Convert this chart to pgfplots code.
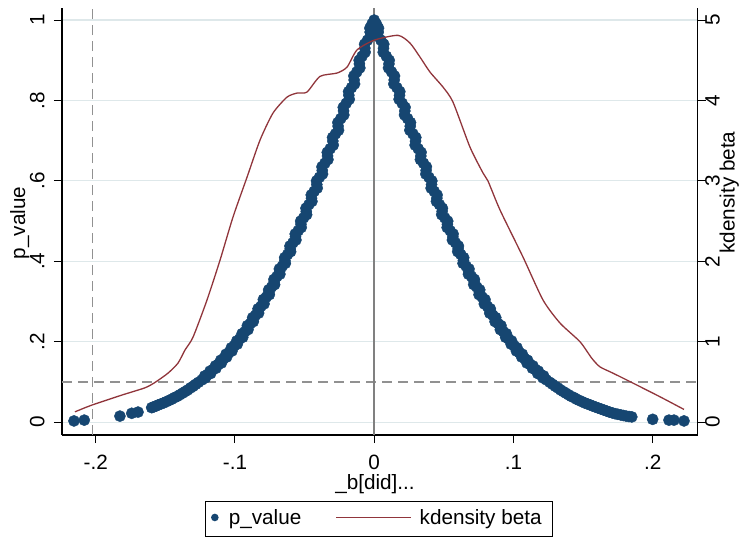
\documentclass[border=0pt]{standalone}
\usepackage{fontspec}
\setmainfont{Liberation Sans}
\usepackage{pgfplots}
\usepackage{pgfplotstable}
\pgfplotsset{compat=1.18}
\definecolor{stnavy}{RGB}{22,70,113}
\definecolor{stmaroon}{RGB}{144,53,59}
\definecolor{gridc}{RGB}{222,232,234}
\definecolor{refc}{RGB}{145,145,145}
\definecolor{zeroc}{RGB}{128,128,128}

\pgfplotstableread{
b p
0.0000 1.000
-0.0031 0.980
-0.0026 0.960
-0.0069 0.940
-0.0065 0.920
-0.0108 0.900
-0.0103 0.881
-0.0146 0.861
-0.0141 0.841
-0.0184 0.822
-0.0179 0.803
-0.0222 0.783
-0.0218 0.764
-0.0261 0.745
-0.0256 0.726
-0.0299 0.708
-0.0294 0.689
-0.0337 0.671
-0.0332 0.653
-0.0375 0.635
-0.0371 0.617
-0.0414 0.600
-0.0409 0.582
-0.0452 0.565
-0.0447 0.549
-0.0490 0.532
-0.0485 0.516
-0.0528 0.500
-0.0524 0.484
-0.0567 0.468
-0.0562 0.453
-0.0605 0.438
-0.0600 0.424
-0.0643 0.409
-0.0638 0.395
-0.0681 0.381
-0.0677 0.368
-0.0720 0.355
-0.0715 0.342
-0.0758 0.329
-0.0753 0.317
-0.0796 0.305
-0.0791 0.294
-0.0834 0.282
-0.0830 0.271
-0.0873 0.260
-0.0868 0.250
-0.0911 0.240
-0.0906 0.230
-0.0949 0.220
-0.0944 0.211
-0.0987 0.202
-0.0983 0.194
-0.1026 0.185
-0.1021 0.177
-0.1064 0.169
-0.1059 0.162
-0.1102 0.154
-0.1097 0.147
-0.1140 0.140
-0.1136 0.134
-0.1179 0.127
-0.1174 0.121
-0.1217 0.115
-0.1212 0.110
-0.1262 0.099
-0.1301 0.089
-0.1339 0.080
-0.1377 0.072
-0.1415 0.064
-0.1454 0.057
-0.1492 0.051
-0.1530 0.0455
-0.1568 0.040
-0.1598 0.036
-0.1696 0.025
-0.1741 0.022
-0.1826 0.015
-0.2082 0.005
-0.2156 0.003
0.0031 0.980
0.0026 0.960
0.0069 0.940
0.0065 0.920
0.0108 0.900
0.0103 0.881
0.0146 0.861
0.0141 0.841
0.0184 0.822
0.0179 0.803
0.0222 0.783
0.0218 0.764
0.0261 0.745
0.0256 0.726
0.0299 0.708
0.0294 0.689
0.0337 0.671
0.0332 0.653
0.0375 0.635
0.0371 0.617
0.0414 0.600
0.0409 0.582
0.0452 0.565
0.0447 0.549
0.0490 0.532
0.0485 0.516
0.0528 0.500
0.0524 0.484
0.0567 0.468
0.0562 0.453
0.0605 0.438
0.0600 0.424
0.0643 0.409
0.0638 0.395
0.0681 0.381
0.0677 0.368
0.0720 0.355
0.0715 0.342
0.0758 0.329
0.0753 0.317
0.0796 0.305
0.0791 0.294
0.0834 0.282
0.0830 0.271
0.0873 0.260
0.0868 0.250
0.0911 0.240
0.0906 0.230
0.0949 0.220
0.0944 0.211
0.0987 0.202
0.0983 0.194
0.1026 0.185
0.1021 0.177
0.1064 0.169
0.1059 0.162
0.1102 0.154
0.1097 0.147
0.1140 0.140
0.1136 0.134
0.1179 0.127
0.1174 0.121
0.1217 0.115
0.1212 0.110
0.1262 0.099
0.1301 0.089
0.1339 0.080
0.1377 0.072
0.1415 0.064
0.1454 0.057
0.1492 0.051
0.1530 0.0455
0.1570 0.040
0.1610 0.035
0.1650 0.030
0.1690 0.025
0.1730 0.021
0.1770 0.018
0.1810 0.015
0.1850 0.013
0.2000 0.007
0.2117 0.005
0.2153 0.005
0.2225 0.003
}\pvals

\pgfplotstableread{
b p
-0.0016 0.990
-0.0029 0.970
-0.0048 0.950
-0.0067 0.930
-0.0087 0.910
-0.0106 0.891
-0.0125 0.871
-0.0144 0.851
-0.0163 0.832
-0.0182 0.813
-0.0201 0.793
-0.0220 0.774
-0.0240 0.755
-0.0259 0.736
-0.0278 0.717
-0.0297 0.699
-0.0316 0.680
-0.0335 0.662
-0.0354 0.644
-0.0373 0.626
-0.0393 0.609
-0.0412 0.591
-0.0431 0.574
-0.0450 0.557
-0.0469 0.541
-0.0488 0.524
-0.0507 0.508
-0.0526 0.492
-0.0546 0.476
-0.0565 0.461
-0.0584 0.446
-0.0603 0.431
-0.0622 0.417
-0.0641 0.402
-0.0660 0.388
-0.0679 0.375
-0.0699 0.362
-0.0718 0.349
-0.0737 0.336
-0.0756 0.323
-0.0775 0.311
-0.0794 0.300
-0.0813 0.288
-0.0832 0.277
-0.0852 0.266
-0.0871 0.255
-0.0890 0.245
-0.0909 0.235
-0.0928 0.225
-0.0947 0.216
-0.0966 0.207
-0.0985 0.198
-0.1005 0.190
-0.1024 0.181
-0.1043 0.173
-0.1062 0.166
-0.1081 0.158
-0.1100 0.151
-0.1119 0.144
-0.1138 0.137
-0.1158 0.131
-0.1177 0.124
-0.1196 0.118
-0.1215 0.113
-0.1237 0.105
-0.1282 0.094
-0.1320 0.085
-0.1358 0.076
-0.1396 0.068
-0.1435 0.061
-0.1473 0.054
-0.1511 0.048
-0.1549 0.043
-0.1583 0.038
0.0016 0.990
0.0029 0.970
0.0048 0.950
0.0067 0.930
0.0087 0.910
0.0106 0.891
0.0125 0.871
0.0144 0.851
0.0163 0.832
0.0182 0.813
0.0201 0.793
0.0220 0.774
0.0240 0.755
0.0259 0.736
0.0278 0.717
0.0297 0.699
0.0316 0.680
0.0335 0.662
0.0354 0.644
0.0373 0.626
0.0393 0.609
0.0412 0.591
0.0431 0.574
0.0450 0.557
0.0469 0.541
0.0488 0.524
0.0507 0.508
0.0526 0.492
0.0546 0.476
0.0565 0.461
0.0584 0.446
0.0603 0.431
0.0622 0.417
0.0641 0.402
0.0660 0.388
0.0679 0.375
0.0699 0.362
0.0718 0.349
0.0737 0.336
0.0756 0.323
0.0775 0.311
0.0794 0.300
0.0813 0.288
0.0832 0.277
0.0852 0.266
0.0871 0.255
0.0890 0.245
0.0909 0.235
0.0928 0.225
0.0947 0.216
0.0966 0.207
0.0985 0.198
0.1005 0.190
0.1024 0.181
0.1043 0.173
0.1062 0.166
0.1081 0.158
0.1100 0.151
0.1119 0.144
0.1138 0.137
0.1158 0.131
0.1177 0.124
0.1196 0.118
0.1215 0.113
0.1237 0.105
0.1282 0.094
0.1320 0.085
0.1358 0.076
0.1396 0.068
0.1435 0.061
0.1473 0.054
0.1511 0.048
0.1550 0.043
0.1590 0.0375
0.1630 0.0325
0.1670 0.0275
0.1710 0.023
0.1750 0.0195
0.1790 0.0165
0.1830 0.014
}\pvalsmid

\pgfplotstableread{
b d
-0.2149 0.128
-0.2029 0.211
-0.1813 0.336
-0.1646 0.427
-0.1574 0.494
-0.1481 0.609
-0.1409 0.734
-0.1359 0.896
-0.1301 1.057
-0.1201 1.517
-0.1107 2.015
-0.1014 2.550
-0.0913 3.047
-0.0820 3.507
-0.0727 3.843
-0.0626 4.042
-0.0554 4.092
-0.0483 4.104
-0.0389 4.300
-0.0267 4.341
-0.0195 4.415
-0.0124 4.627
0.0000 4.750
0.0171 4.810
0.0257 4.714
0.0329 4.540
0.0401 4.353
0.0494 4.167
0.0566 3.980
0.0688 3.420
0.0782 3.097
0.0817 3.000
0.0904 2.637
0.1069 2.052
0.1213 1.517
0.1335 1.231
0.1478 1.000
0.1562 0.796
0.1621 0.688
0.1715 0.609
0.1859 0.485
0.2053 0.315
0.2225 0.158
}\dens

\begin{document}
\fontsize{20.7}{24}\selectfont
\begin{tikzpicture}
\pgfplotsset{
  every axis/.append style={font=\fontsize{20.7}{24}\selectfont},
  base/.style={
    scale only axis, width=635.5pt, height=427pt,
    xmin=-0.2242, xmax=0.2322,
    tick align=outside, major tick length=8pt,
    axis line style={line width=1.1pt, black},
    every tick/.style={line width=1.1pt, black},
    xtick={-0.2,-0.1,0,0.1,0.2},
  },
  pmark/.style={only marks, mark=*, mark size=5.6pt, color=stnavy, mark options={draw=stnavy, fill=stnavy}},
}
\begin{axis}[base,
  ymin=-0.032, ymax=1.030,
  axis x line*=bottom, axis y line*=left,
  xticklabels={-.2,-.1,0,.1,.2},
  ytick={0,0.2,0.4,0.6,0.8,1},
  yticklabels={0,.2,.4,.6,.8,1},
  ymajorgrids, major grid style={gridc, line width=1.2pt},
  yticklabel style={xshift=-9.5pt, rotate=90, anchor=base},
  xticklabel style={yshift=-26pt, anchor=base},
  every axis y label/.style={at={(axis description cs:-0.0582,0.4965)}, rotate=90, anchor=base},
  every axis x label/.style={at={(axis description cs:0.4925,-0.1265)}, anchor=base},
  ylabel={p\_value},
  xlabel={\_b[did]...},
]
\coordinate (sw) at (rel axis cs:0,0);
\addplot[refc, line width=1.2pt, dash pattern=on 10pt off 6pt, forget plot] coordinates {(-0.2022,-0.032) (-0.2022,1.030)};
\addplot[refc, line width=1.2pt, dash pattern=on 10pt off 6pt, forget plot] coordinates {(-0.2242,0.1) (0.2322,0.1)};
\addplot[zeroc, line width=1.4pt, forget plot] coordinates {(0,-0.032) (0,1.030)};
\addplot[pmark] table[x=b, y=p] {\pvals};
\addplot[pmark, forget plot] table[x=b, y=p] {\pvalsmid};
\end{axis}
\begin{axis}[base,
  ymin=-0.16, ymax=5.15,
  axis x line=none, axis y line*=right,
  ytick={0,1,2,3,4,5},
  yticklabels={0,1,2,3,4,5},
  yticklabel style={xshift=14pt, rotate=90, anchor=base},
  every axis y label/.style={at={(axis description cs:1.0585,0.5679)}, rotate=90, anchor=base},
  ylabel={kdensity beta},
  legend columns=2,
  legend style={at={(axis description cs:0.4988,-0.1546)}, anchor=north, draw=black, line width=0.8pt,
    inner xsep=2.5pt, inner ysep=0pt,
    nodes={inner xsep=8pt, inner ysep=8.3pt, anchor=base},
    /tikz/every even column/.append style={column sep=26pt}},
]
\addlegendimage{legend image code/.code={\path[draw=none, fill=none] (0pt,0pt) rectangle (12.5pt,0pt); \fill[stnavy, draw=none] (6.5pt,0.35em) circle (3.8pt);}}
\addlegendentry{p\_value}
\addplot[stmaroon, line width=1.3pt, smooth, tension=0.4,
  legend image code/.code={\draw[stmaroon, line width=1.3pt] (0pt,0.35em) -- (75pt,0.35em);}] table[x=b, y=d] {\dens};
\addlegendentry{kdensity beta}
\end{axis}
\pgfresetboundingbox
\path ([shift={(-62pt,-104pt)}]sw) rectangle ++(749pt,539pt);
\end{tikzpicture}
\end{document}
